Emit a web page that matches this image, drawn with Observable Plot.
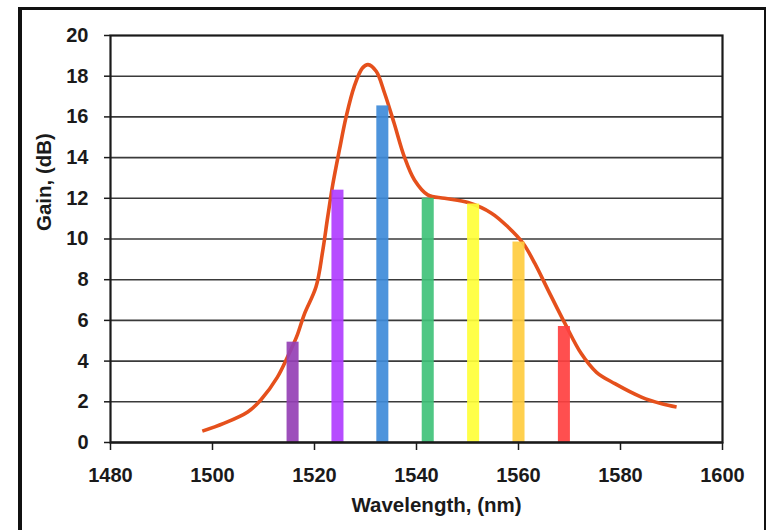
<!DOCTYPE html>
<html>
<head>
<meta charset="utf-8">
<script src="https://cdn.jsdelivr.net/npm/d3@7"></script>
<script src="https://cdn.jsdelivr.net/npm/@observablehq/plot@0.6"></script>
<style>
  html, body { margin: 0; padding: 0; background: #fff; }
  #wrap { position: relative; width: 767px; height: 530px; overflow: hidden; }
  #border { position: absolute; left: 18px; top: 7px; width: 742px; height: 600px;
            border-style: solid; border-color: #111; border-width: 3px 2px 0 4px; pointer-events: none; }
</style>
</head>
<body>
<div id="wrap"><div id="border"></div></div>
<script>
// Channel wavelengths (nm), gains (dB) and colours of the bars
const channelWavelengths = [1515.8, 1524.6, 1533.4, 1542.3, 1551.2, 1560.1, 1569.0];
const channelGains       = [4.93, 12.4, 16.54, 12.0, 11.72, 9.85, 5.7];
const channelColors      = ["#9540b5", "#b03eff", "#3f8bd9", "#40c27a", "#ffff3a", "#ffcc3f", "#ff4040"];

// Gain spectrum curve
const curveWavelengths = [1498.0, 1502.2, 1506.9, 1509.5, 1512.7, 1514.7, 1516.5, 1518.0, 1520.3, 1521.6,
  1522.6, 1523.6, 1524.9, 1526.2, 1527.8, 1529.4, 1530.5, 1532.1, 1533.7, 1535.6, 1537.6, 1539.6,
  1542.2, 1545.5, 1550.1, 1554.7, 1557.9, 1560.9, 1563.2, 1565.8, 1569.1, 1572.3, 1575.3, 1578.9,
  1584.1, 1588.1, 1591.0];
const curveGains = [0.56, 0.94, 1.5, 2.1, 3.2, 4.2, 5.2, 6.3, 7.65, 9.4,
  11.1, 12.7, 14.4, 16.0, 17.5, 18.4, 18.57, 18.24, 17.2, 15.7, 14.05, 12.9,
  12.17, 12.0, 11.79, 11.27, 10.6, 9.79, 8.8, 7.49, 5.85, 4.37, 3.45, 2.89,
  2.23, 1.9, 1.74];

const xTicks = [1480, 1500, 1520, 1540, 1560, 1580, 1600];
const yTicks = [0, 2, 4, 6, 8, 10, 12, 14, 16, 18, 20];
const xLabel = "Wavelength, (nm)";
const yLabel = "Gain, (dB)";

const bars = channelWavelengths.map((w, i) => ({w, g: channelGains[i], c: channelColors[i]}));
const curve = curveWavelengths.map((w, i) => ({w, g: curveGains[i]}));
const halfBar = 1.18;

const font = "'Liberation Sans', Arial, sans-serif";

const chart = Plot.plot({
  width: 767,
  height: 530,
  marginLeft: 110,
  marginRight: 45,
  marginTop: 35,
  marginBottom: 88,
  style: {fontFamily: font, fontWeight: "bold", color: "#1a1a1a", background: "transparent"},
  x: {domain: [1480, 1600]},
  y: {domain: [0, 20]},
  marks: [
    Plot.ruleY(yTicks.filter(d => d > 0 && d < 20), {stroke: "#3a3a3a", strokeWidth: 1.6}),
    Plot.line(curve, {x: "w", y: "g", stroke: "#e5501c", strokeWidth: 3.6, curve: "catmull-rom",
      strokeLinecap: "butt", strokeLinejoin: "round"}),
    Plot.rectY(bars, {x1: d => d.w - halfBar, x2: d => d.w + halfBar, y1: 0, y2: "g",
      fill: "c", fillOpacity: 0.92}),
    Plot.frame({stroke: "#1a1a1a", strokeWidth: 2.2}),
    Plot.axisY({ticks: yTicks, tickSize: 6, tickPadding: 16, fontSize: 20, label: null,
      stroke: "#1a1a1a", strokeWidth: 1.5}),
    Plot.axisX({ticks: xTicks, tickSize: 8, tickPadding: 17, fontSize: 20, label: null,
      tickFormat: d => String(d), stroke: "#1a1a1a", strokeWidth: 1.5}),
    Plot.ruleY([0], {stroke: "#1a1a1a", strokeWidth: 2.2, dx: 0}),
    Plot.text([xLabel], {frameAnchor: "bottom", dx: 20, dy: 63, fontSize: 20.5, fontWeight: "bold",
      lineAnchor: "middle", fill: "#1a1a1a"}),
    Plot.text([yLabel], {frameAnchor: "left", dx: -66, dy: -8, rotate: -90, fontSize: 20.5,
      fontWeight: "bold", lineAnchor: "middle", fill: "#1a1a1a"})
  ]
});
document.getElementById("wrap").insertBefore(chart, document.getElementById("border"));
</script>
</body>
</html>
